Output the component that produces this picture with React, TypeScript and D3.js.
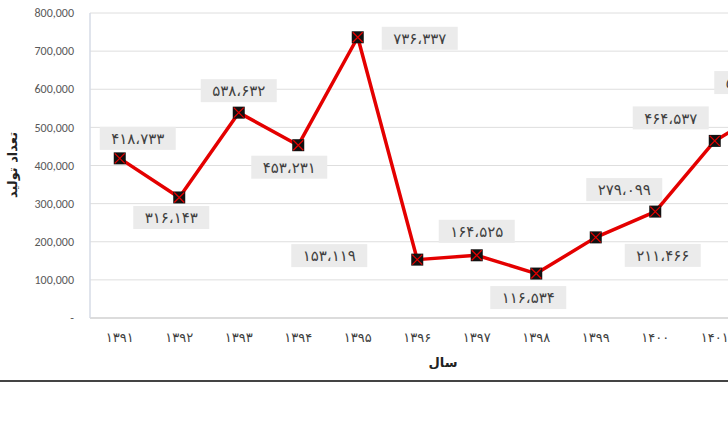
import * as d3 from "d3";

// سال‌ها (محور افقی) و مقدار تولید
const years = ["۱۳۹۱", "۱۳۹۲", "۱۳۹۳", "۱۳۹۴", "۱۳۹۵", "۱۳۹۶", "۱۳۹۷", "۱۳۹۸", "۱۳۹۹", "۱۴۰۰", "۱۴۰۱", "۱۴۰۲"];
const production = [418733, 316143, 538632, 453231, 736337, 153119, 164525, 116534, 211466, 279099, 464537, 557210];
const yTicks = [0, 100000, 200000, 300000, 400000, 500000, 600000, 700000, 800000];

// hand placed label boxes in the original, offset from each point (px)
const labelOffsets: [number, number][] = [
  [18, -20], [-8, 20], [0, -22], [-9, 22], [62, 1], [-88, -4],
  [0, -24], [-8, 24], [67, 18], [-31, -22], [-44, -23], [-22, -23],
];

const W = 728;
const H = 423;
const left = 90;
const step = 59.5;

const faDigits = (s: string) => s.replace(/\d/g, (d) => "۰۱۲۳۴۵۶۷۸۹"[+d]);
const faNumber = (v: number) => faDigits(d3.format(",")(v)).replace(/,/g, "،");

const App = () => {
  const x = d3
    .scaleBand<string>()
    .domain(years)
    .range([left, left + step * years.length]);
  const y = d3.scaleLinear().domain([0, 800000]).range([318, 13]);

  const cx = (i: number) => (x(years[i]) as number) + x.bandwidth() / 2;

  const line = d3
    .line<number>()
    .x((_, i) => cx(i))
    .y((d) => y(d));

  const persian = "'DejaVu Sans', sans-serif";

  return (
    <svg
      width={W}
      height={H}
      style={{ position: "absolute", left: 0, top: 0, background: "#fff" }}
    >
      {/* gridlines */}
      {yTicks.map((t) => (
        <line
          key={"g" + t}
          x1={left}
          x2={W}
          y1={y(t)}
          y2={y(t)}
          stroke={t === 0 ? "#d0d0d0" : "#dedede"}
          strokeWidth={t === 0 ? 1.5 : 1}
        />
      ))}
      <line x1={left} x2={left} y1={y(800000)} y2={y(0)} stroke="#d6dbe6" strokeWidth={1.5} />

      {/* y tick labels */}
      {yTicks.map((t) => (
        <text
          key={"t" + t}
          x={74}
          y={y(t)}
          dy="0.35em"
          textAnchor="end"
          fontFamily="Calibri, 'Liberation Sans', 'Open Sans', sans-serif"
          fontSize={12}
          fill="#595959"
        >
          {t === 0 ? "-" : d3.format(",")(t)}
        </text>
      ))}

      {/* x tick labels */}
      {years.map((yr) => (
        <text
          key={"x" + yr}
          x={(x(yr) as number) + x.bandwidth() / 2}
          y={337}
          dy="0.35em"
          textAnchor="middle"
          fontFamily={persian}
          fontSize={13}
          fill="#404040"
          letterSpacing={1}
        >
          {yr}
        </text>
      ))}

      {/* axis titles */}
      <text
        transform="translate(12,165) rotate(-90)"
        textAnchor="middle"
        dy="0.35em"
        fontFamily={persian}
        fontSize={13}
        fontWeight="bold"
        fill="#222"
      >
        تعداد تولید
      </text>
      <text
        x={443}
        y={362}
        textAnchor="middle"
        dy="0.35em"
        fontFamily={persian}
        fontSize={13}
        fontWeight="bold"
        fill="#222"
      >
        سال
      </text>

      {/* series */}
      <path d={line(production) ?? ""} fill="none" stroke="#e40000" strokeWidth={3.5} strokeLinejoin="round" />
      {production.map((v, i) => {
        const px = cx(i);
        const py = y(v);
        return (
          <g key={"m" + i}>
            <rect x={px - 6} y={py - 6} width={12} height={12} fill="#111" />
            <path
              d={`M${px - 5},${py - 5}L${px + 5},${py + 5}M${px + 5},${py - 5}L${px - 5},${py + 5}`}
              stroke="#e40000"
              strokeWidth={1.3}
            />
          </g>
        );
      })}

      {/* data labels */}
      {production.map((v, i) => {
        const bx = cx(i) + labelOffsets[i][0];
        const by = y(v) + labelOffsets[i][1];
        return (
          <g key={"l" + i}>
            <rect x={bx - 38} y={by - 11.5} width={76} height={23} fill="#ebebeb" />
            <text
              x={bx}
              y={by}
              dy="0.38em"
              textAnchor="middle"
              fontFamily={persian}
              fontSize={15}
              fill="#404040"
              letterSpacing={1}
            >
              {faNumber(v)}
            </text>
          </g>
        );
      })}

      {/* bottom frame line */}
      <line x1={0} x2={W} y1={381} y2={381} stroke="#444" strokeWidth={2} />
    </svg>
  );
};

export default App;
